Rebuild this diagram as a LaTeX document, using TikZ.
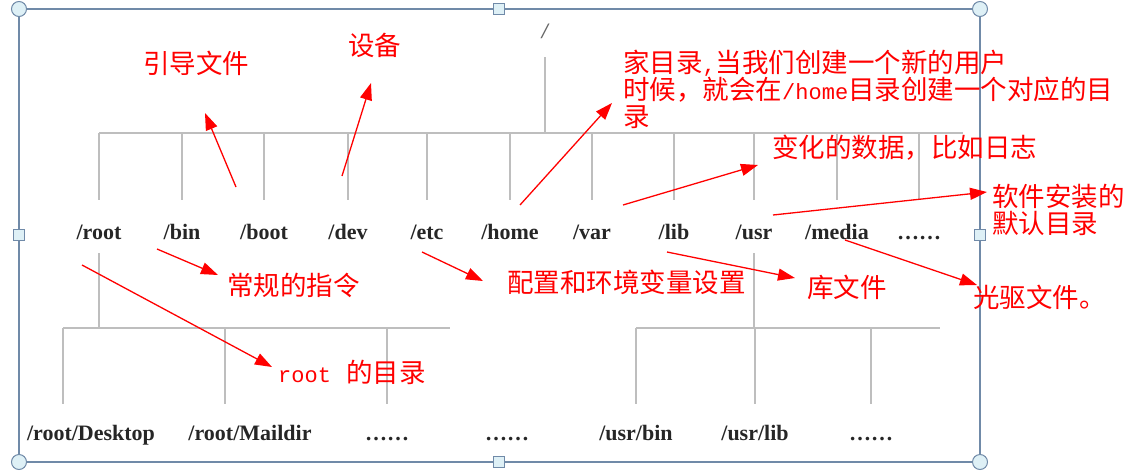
\documentclass[tikz,border=0pt]{standalone}
\usepackage{fontspec}
\setmainfont{Liberation Serif}
\newfontfamily\cjk{Noto Sans CJK SC}
\newfontfamily\codefont{Liberation Mono}
\usetikzlibrary{arrows.meta,calc}
\definecolor{framegray}{RGB}{112,138,168}
\definecolor{handlefill}{RGB}{222,240,246}
\definecolor{treegray}{RGB}{190,190,190}
\definecolor{notered}{RGB}{255,0,0}
\newcommand{\code}[1]{{\codefont\fontsize{22}{27}\selectfont #1}}

\begin{document}
\begin{tikzpicture}[
  x=1pt, y=-1pt,
  dirlbl/.style={font=\fontsize{22}{22}\selectfont\bfseries, text=black!85,
              inner sep=0pt, text height=15pt, text depth=5pt},
  notelbl/.style={font=\cjk\fontsize{26.5}{27}\selectfont, text=notered,
              align=left, inner sep=0pt, anchor=west},
  tree/.style={treegray, line width=1.4pt},
  redarr/.style={-{Triangle[length=17pt,width=12pt]}, notered, line width=1.3pt},
  corner/.style={circle, draw=framegray, fill=handlefill, line width=1pt,
              minimum size=15pt, inner sep=0pt},
  sidebox/.style={rectangle, draw=framegray, fill=handlefill, line width=1pt,
              minimum size=11pt, inner sep=0pt}
]
\useasboundingbox (0,0) rectangle (1133,474);

\draw[framegray, line width=1.5pt] (19,9) rectangle (980,462);
\node[corner] (ctl) at (19,9) {};
\node[corner] (ctr) at (980,9) {};
\node[corner] (cbl) at (19,462) {};
\node[corner] (cbr) at (980,462) {};
\node[sidebox] (stop) at (499,9) {};
\node[sidebox] (sbot) at (499,462) {};
\node[sidebox] (sleft) at (19,235) {};
\node[sidebox] (sright) at (980,235) {};

\coordinate (top) at (0,57);
\coordinate (bus1) at (0,133);
\coordinate (end1) at (0,200);
\coordinate (sub) at (0,253);
\coordinate (bus2) at (0,328);
\coordinate (end2) at (0,404);

\node[text=black!60, font=\fontsize{22}{22}\selectfont\bfseries\itshape] (slash) at (545,31) {/};

\node[dirlbl] (rootd) at (99,234) {/root};
\node[dirlbl] (bin) at (182,234) {/bin};
\node[dirlbl] (boot) at (264,234) {/boot};
\node[dirlbl] (dev) at (348,234) {/dev};
\node[dirlbl] (etc) at (427,234) {/etc};
\node[dirlbl] (home) at (510,234) {/home};
\node[dirlbl] (var) at (592,234) {/var};
\node[dirlbl] (lib) at (674,234) {/lib};
\node[dirlbl] (usr) at (754,234) {/usr};
\node[dirlbl] (media) at (837,234) {/media};
\node[dirlbl] (more) at (919,234) {……};

\node[dirlbl] (desk) at (91,435) {/root/Desktop};
\node[dirlbl] (mail) at (250,435) {/root/Maildir};
\node[dirlbl] (rmore) at (387,435) {……};
\node[dirlbl] (rmoreb) at (507,435) {……};
\node[dirlbl] (ubin) at (636,435) {/usr/bin};
\node[dirlbl] (ulib) at (755,435) {/usr/lib};
\node[dirlbl] (umore) at (871,435) {……};

\draw[tree] (slash |- top) -- (slash |- bus1);
\draw[tree] (rootd |- bus1) -- ($(more |- bus1)+(44,0)$);
\draw[tree] (rootd |- bus1) -- (rootd |- end1);
\draw[tree] (bin |- bus1) -- (bin |- end1);
\draw[tree] (boot |- bus1) -- (boot |- end1);
\draw[tree] (dev |- bus1) -- (dev |- end1);
\draw[tree] (etc |- bus1) -- (etc |- end1);
\draw[tree] (home |- bus1) -- (home |- end1);
\draw[tree] (var |- bus1) -- (var |- end1);
\draw[tree] (lib |- bus1) -- (lib |- end1);
\draw[tree] (usr |- bus1) -- (usr |- end1);
\draw[tree] (media |- bus1) -- (media |- end1);
\draw[tree] (more |- bus1) -- (more |- end1);

\draw[tree] (rootd |- sub) -- (rootd |- bus2);
\draw[tree] ([xshift=-28pt]desk |- bus2) -- ($(rmore |- bus2)+(63,0)$);
\draw[tree] ([xshift=-28pt]desk |- bus2) -- ([xshift=-28pt]desk |- end2);
\draw[tree] ([xshift=-25pt]mail |- bus2) -- ([xshift=-25pt]mail |- end2);
\draw[tree] (rmore |- bus2) -- (rmore |- end2);

\draw[tree] (usr |- sub) -- (usr |- bus2);
\draw[tree] (ubin |- bus2) -- ($(umore |- bus2)+(69,0)$);
\draw[tree] (ubin |- bus2) -- (ubin |- end2);
\draw[tree] (ulib |- bus2) -- (ulib |- end2);
\draw[tree] (umore |- bus2) -- (umore |- end2);

\node[notelbl] (nboot) at (143,63) {引导文件};
\node[notelbl] (ndev) at (348,45) {设备};
\node[notelbl, anchor=north west] (nhome) at (623,50)
  {家目录\code{,}当我们创建一个新的用户\\时候，就会在\code{/home}目录创建一个对应的目\\录};
\node[notelbl] (nvar) at (772,148) {变化的数据，比如日志};
\node[notelbl, anchor=north west] (nusr) at (992,184) {软件安装的\\默认目录};
\node[notelbl] (nbin) at (227,285) {常规的指令};
\node[notelbl] (nroot) at (278,372) {\code{root}\hspace{15pt}的目录};
\node[notelbl] (netc) at (507,282) {配置和环境变量设置};
\node[notelbl] (nlib) at (807,287) {库文件};
\node[notelbl] (nmedia) at (973,297) {光驱文件。};

\coordinate (sboot) at (236,187);  \coordinate (tboot) at (205,113);
\coordinate (sdev) at (342,176);   \coordinate (tdev) at (371,83);
\coordinate (shome) at (520,205);  \coordinate (thome) at (612,103);
\coordinate (svar) at (623,205);   \coordinate (tvar) at (758,165);
\coordinate (susr) at (773,215);   \coordinate (tusr) at (987,192);
\coordinate (sbin) at (157,249);   \coordinate (tbin) at (218,275);
\coordinate (sroot) at (82,265);   \coordinate (troot) at (272,367);
\coordinate (setc) at (422,252);   \coordinate (tetc) at (483,281);
\coordinate (slib) at (667,252);   \coordinate (tlib) at (795,278);
\coordinate (smedia) at (845,240); \coordinate (tmedia) at (977,285);

\draw[redarr] (sboot) -- (tboot);
\draw[redarr] (sdev) -- (tdev);
\draw[redarr] (shome) -- (thome);
\draw[redarr] (svar) -- (tvar);
\draw[redarr] (susr) -- (tusr);
\draw[redarr] (sbin) -- (tbin);
\draw[redarr] (sroot) -- (troot);
\draw[redarr] (setc) -- (tetc);
\draw[redarr] (slib) -- (tlib);
\draw[redarr] (smedia) -- (tmedia);
\end{tikzpicture}
\end{document}
